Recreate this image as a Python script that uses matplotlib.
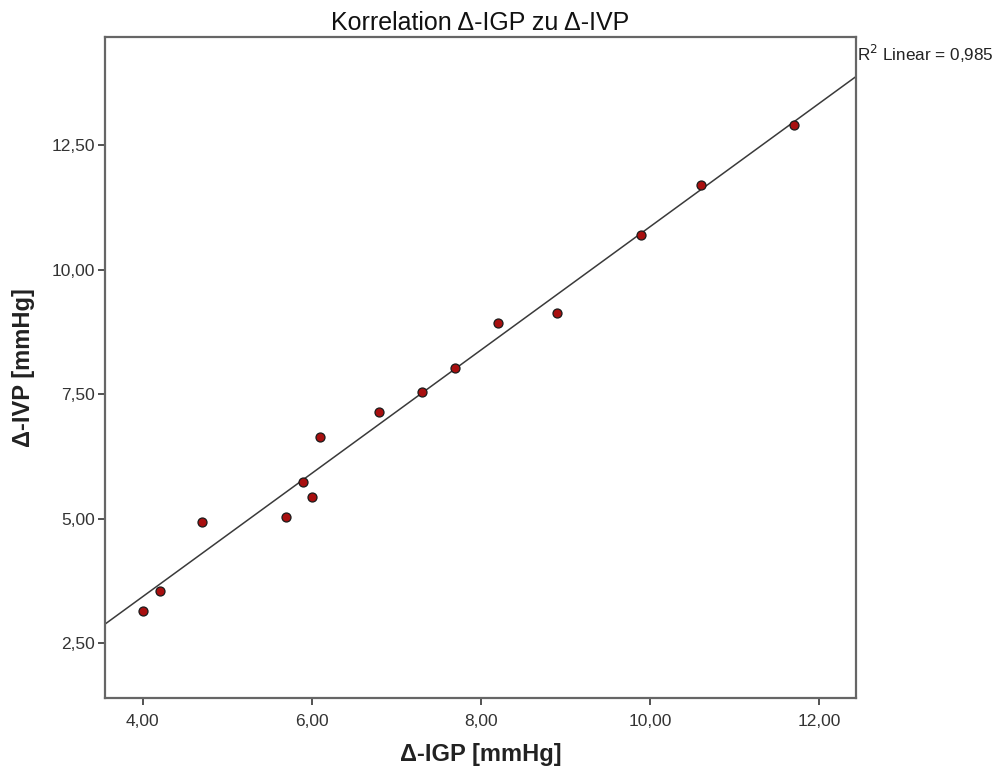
import numpy as np
import matplotlib
matplotlib.use("Agg")
import matplotlib.pyplot as plt

plt.rcParams['font.family'] = ['Liberation Sans', 'DejaVu Sans']

igp = [4.0, 4.2, 4.7, 5.7, 5.9, 6.0, 6.1, 6.8, 7.3, 7.7, 8.2, 8.9, 9.9, 10.6, 11.7]
ivp = [3.15, 3.55, 4.93, 5.04, 5.74, 5.44, 6.63, 7.14, 7.54, 8.03, 8.92, 9.12, 10.7, 11.7, 12.9]
xticks = [4, 6, 8, 10, 12]
yticks = [2.5, 5.0, 7.5, 10.0, 12.5]
r2_text = "R$^2$ Linear = 0,985"

fig = plt.figure(figsize=(9.98, 7.75), dpi=100)
ax = fig.add_axes([0.1052, 0.0998, 0.7525, 0.8525])

xlim = (3.554, 12.438)
ylim = (1.408, 14.667)
ax.set_xlim(xlim)
ax.set_ylim(ylim)

# Regressionsgerade
k, d = np.polyfit(igp, ivp, 1)
xs = np.array(xlim)
ax.plot(xs, k * xs + d, color='#3a3a3a', lw=1.1, zorder=2)

ax.scatter(igp, ivp, s=42, color='#a80f0f', edgecolors='#1a1a1a', linewidths=0.9, zorder=3)

ax.set_xticks(xticks)
ax.set_yticks(yticks)
ax.set_xticklabels([("%.2f" % v).replace('.', ',') for v in xticks])
ax.set_yticklabels([("%.2f" % v).replace('.', ',') for v in yticks])
ax.tick_params(direction='out', length=5, width=1.3, color='#444444', labelcolor='#333333', labelsize=12.5)
ax.tick_params(axis='x', pad=7)
ax.tick_params(axis='y', pad=2)
for s in ax.spines.values():
    s.set_color('#666666')
    s.set_linewidth(1.6)

ax.set_xlabel("Δ-IGP [mmHg]", fontsize=17, fontweight='bold', color='#222222', labelpad=10)
ax.set_ylabel("Δ-IVP [mmHg]", fontsize=17, fontweight='bold', color='#222222', labelpad=12)
ax.set_title("Korrelation Δ-IGP zu Δ-IVP", fontsize=18, color='#111111', pad=5)

ax.text(1.002, 0.975, r2_text, transform=ax.transAxes, fontsize=12.3, color='#222222', ha='left', va='center')

fig.savefig("out.png", dpi=100)
